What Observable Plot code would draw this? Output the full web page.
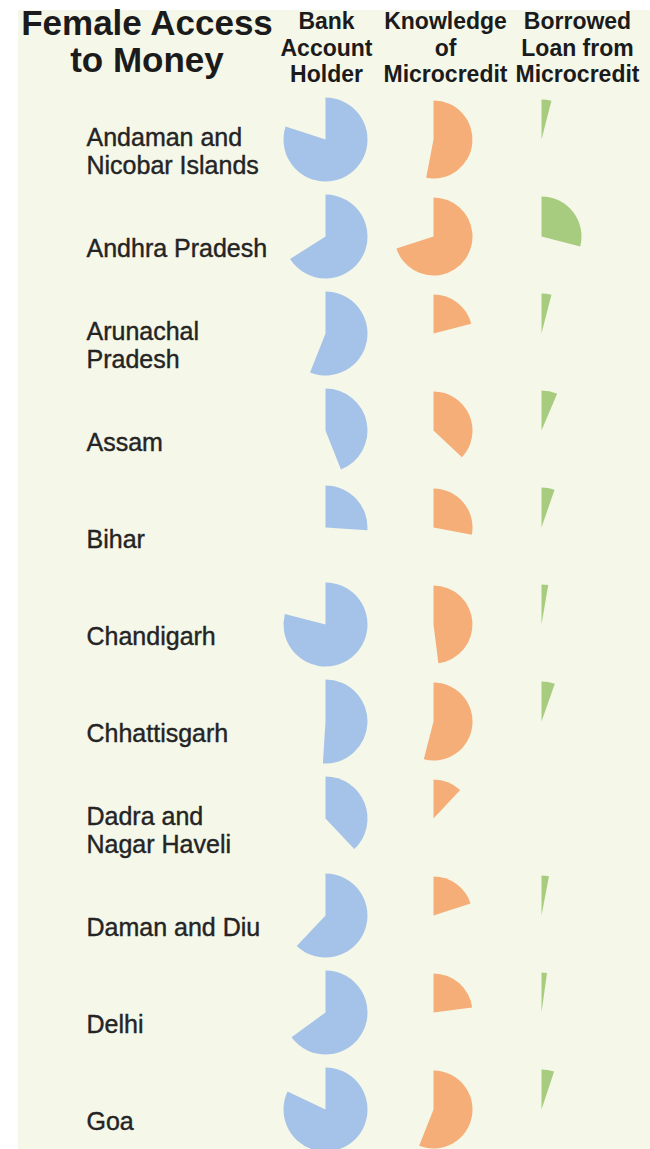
<!DOCTYPE html>
<html><head><meta charset="utf-8">
<script src="https://cdn.jsdelivr.net/npm/d3@7"></script>
<script src="https://cdn.jsdelivr.net/npm/@observablehq/plot@0.6"></script>
<style>
body{margin:0;background:#fff;font-family:"Liberation Sans",Arial,sans-serif;}
#wrap{position:relative;width:650px;height:1149px;overflow:hidden;}
#panel{position:absolute;left:18px;top:10px;width:632px;height:1139px;background:#f5f7e9;}
#title{position:absolute;left:0;top:4px;width:294px;text-align:center;font-weight:bold;font-size:35px;line-height:37px;color:#1b1b1b;}
</style></head><body>
<div id="wrap"><div id="panel"></div><div id="title">Female Access<br>to Money</div></div>
<script>
const states = ["Andaman and Nicobar Islands","Andhra Pradesh","Arunachal Pradesh","Assam","Bihar","Chandigarh","Chhattisgarh","Dadra and Nagar Haveli","Daman and Diu","Delhi","Goa"];
const stateLabels = ["Andaman and\nNicobar Islands","Andhra Pradesh","Arunachal\nPradesh","Assam","Bihar","Chandigarh","Chhattisgarh","Dadra and\nNagar Haveli","Daman and Diu","Delhi","Goa"];
const metrics = ["Bank Account Holder","Knowledge of Microcredit","Borrowed Loan from Microcredit"];
const metricLabels = ["Bank\nAccount\nHolder","Knowledge\nof\nMicrocredit","Borrowed\nLoan from\nMicrocredit"];
const bankAccount = [0.80, 0.66, 0.56, 0.44, 0.26, 0.79, 0.51, 0.38, 0.62, 0.65, 0.82];
const knowledgeMicrocredit = [0.53, 0.70, 0.21, 0.37, 0.28, 0.48, 0.54, 0.12, 0.20, 0.23, 0.56];
const borrowedMicrocredit = [0.04, 0.29, 0.04, 0.064, 0.053, 0.027, 0.054, 0, 0.03, 0.022, 0.051];

const series = [bankAccount, knowledgeMicrocredit, borrowedMicrocredit];
const rows = [];
states.forEach((s, i) => metrics.forEach((m, j) => rows.push({state: s, metric: m, value: series[j][i]})));

const colors = ["#a5c3e8", "#f5ae78", "#a7cc7f"];
const radii = [42, 39, 40];
const headerDx = [1, 12, 36];

function wedge(v) {
  return {
    draw(ctx, size) {
      const r = Math.sqrt(size / Math.PI);
      const a0 = -Math.PI / 2, a1 = a0 + 2 * Math.PI * v;
      ctx.moveTo(0, 0);
      ctx.lineTo(0, -r);
      ctx.arc(0, 0, r, a0, a1);
      ctx.closePath();
    }
  };
}

const chart = Plot.plot({
  width: 632, height: 1139, margin: 0,
  style: {background: "transparent", fontFamily: "'Liberation Sans', Arial, sans-serif", overflow: "visible"},
  x: {type: "point", domain: metrics, range: [307, 523], padding: 0, axis: null},
  y: {type: "point", domain: states, range: [125, 1102], padding: 0, axis: null},
  r: {type: "identity"},
  color: {type: "ordinal", domain: metrics, range: colors},
  marks: [
    Plot.dot(rows.filter(d => d.value > 0), {x: "metric", y: "state", r: d => radii[metrics.indexOf(d.metric)], fill: "metric", symbol: d => wedge(d.value)}),
    Plot.text(states, {y: d => d, text: (d, i) => stateLabels[i], frameAnchor: "left", dx: 68, dy: 12, textAnchor: "start", fontSize: 25, lineHeight: 1.12, fill: "#242424", stroke: "#242424", strokeWidth: 0.4}),
    ...metrics.map((m, i) => Plot.text([m], {x: d => d, text: () => metricLabels[i], frameAnchor: "top", lineAnchor: "top", dx: headerDx[i], fontSize: 23, fontWeight: "bold", lineHeight: 1.15, fill: "#1b1b1b"}))
  ]
});
document.getElementById("panel").appendChild(chart);
</script>
</body></html>
